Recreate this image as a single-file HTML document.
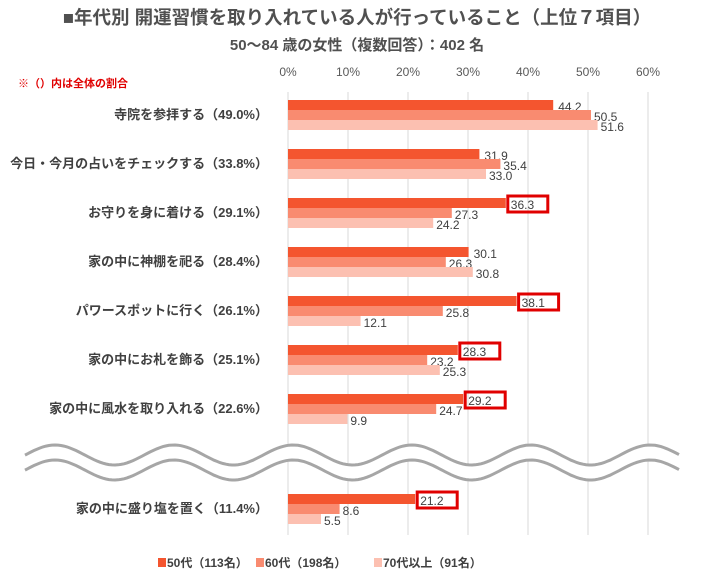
<!DOCTYPE html>
<html><head><meta charset="utf-8"><style>
body{margin:0;background:#fff;font-family:"Liberation Sans","Noto Sans CJK JP",sans-serif;}
svg text{font-family:"Liberation Sans","Noto Sans CJK JP",sans-serif;}
</style></head><body>
<svg id="chart" width="711" height="580" xmlns="http://www.w3.org/2000/svg">
<text x="357" y="24" text-anchor="middle" font-size="18.5" font-weight="bold" fill="#505050">■年代別 開運習慣を取り入れている人が行っていること（上位７項目）</text>
<text x="357" y="50" text-anchor="middle" font-size="15" font-weight="bold" fill="#505050">50～84 歳の女性（複数回答）：402 名</text>
<text x="18" y="87" font-size="11" font-weight="bold" fill="#e00000">※（）内は全体の割合</text>
<g id="grid"></g><g id="bars"></g>
<g id="legend"></g>
</svg>
<script>
const categories=["寺院を参拝する（49.0%）","今日・今月の占いをチェックする（33.8%）","お守りを身に着ける（29.1%）","家の中に神棚を祀る（28.4%）","パワースポットに行く（26.1%）","家の中にお札を飾る（25.1%）","家の中に風水を取り入れる（22.6%）","家の中に盛り塩を置く（11.4%）"];
const s50=[44.2,31.9,36.3,30.1,38.1,28.3,29.2,21.2];
const s60=[50.5,35.4,27.3,26.3,25.8,23.2,24.7,8.6];
const s70=[51.6,33.0,24.2,30.8,12.1,25.3,9.9,5.5];
const highlighted=[false,false,true,false,true,true,true,true];
const ticks=[0,10,20,30,40,50,60];
const seriesNames=["50代（113名）","60代（198名）","70代以上（91名）"];
const colors=["#f4552f","#f98b70","#fcc0b1"];
const NS="http://www.w3.org/2000/svg";
const x=v=>288+v*6.0;
const groupTop=i=>i<7?100+i*49:494;
function mk(tag,attrs,parent){const e=document.createElementNS(NS,tag);for(const k in attrs)e.setAttribute(k,attrs[k]);parent.appendChild(e);return e;}
const grid=document.getElementById('grid'),bars=document.getElementById('bars'),lg=document.getElementById('legend');
ticks.forEach(t=>{
 const l=mk('line',{x1:x(t),x2:x(t),y1:92,y2:535,stroke:'#d9d9d9','stroke-width':1},grid);
 
 
 const tx=mk('text',{x:x(t),y:76,'text-anchor':'middle','font-size':12,fill:'#595959'},grid);
 tx.textContent=t+'%';
 
 
});
const series=[s50,s60,s70];
categories.forEach((c,i)=>{
 const top=groupTop(i);
 const lab=mk('text',{x:268,y:top+19,'text-anchor':'end','font-size':13,'font-weight':'bold',fill:'#404040'},bars);
 lab.textContent=c;
 
 
 series.forEach((s,j)=>{
  const y=top+j*10;
  const r=mk('rect',{x:x(0),y:y,width:x(s[i])-x(0),height:10,fill:colors[j]},bars);
  
  
  const t=mk('text',{x:x(s[i])+(j==0?5:3),y:y+11,'font-size':12,fill:'#404040'},bars);
  t.textContent=s[i].toFixed(1);
  
  
  if(j==0&&highlighted[i]){
   const b=mk('rect',{x:x(s[i])+2,y:y-2,width:40,height:16,fill:'none',stroke:'#e00000','stroke-width':3},bars);
   
   
  }
 });
});
let d1='',d2='';
for(let px=25;px<=680;px+=3){const yy=455-10*Math.cos((px-55)*2*Math.PI/119);d1+=(px==25?'M':'L')+px+','+yy.toFixed(1);d2+=(px==25?'M':'L')+px+','+(yy+15).toFixed(1);}
const w=mk('path',{d:d1,fill:'none',stroke:'#fff','stroke-width':14,transform:'translate(0,7.5)'},bars);


const w1=mk('path',{d:d1,fill:'none',stroke:'#a6a6a6','stroke-width':3},bars);


const w2=mk('path',{d:d2,fill:'none',stroke:'#a6a6a6','stroke-width':3},bars);


const lx=[158,256,374];
seriesNames.forEach((n,j)=>{
 const r=mk('rect',{x:lx[j],y:558,width:8,height:9,fill:colors[j]},lg);
 
 
 const t=mk('text',{x:lx[j]+9,y:567,'font-size':12,'font-weight':'bold',fill:'#404040'},lg);
 t.textContent=n;
 
 
});
</script>
</body></html>
